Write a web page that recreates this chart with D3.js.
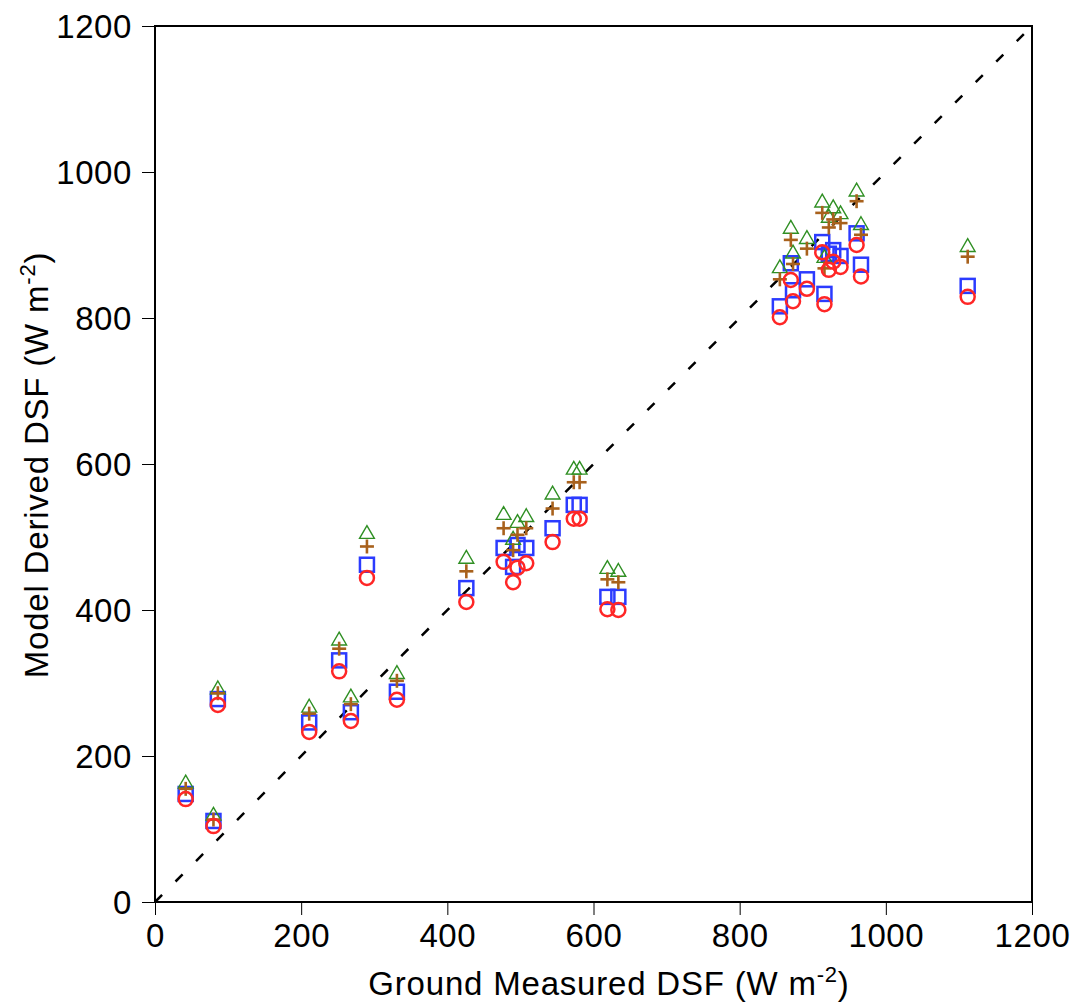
<!DOCTYPE html>
<html lang="en">
<head>
<meta charset="UTF-8">
<title>Model vs Ground DSF</title>
<script src="https://d3js.org/d3.v7.min.js"></script>
<style>
  body { margin: 0; background: #fff; }
  text { font-family: "Liberation Sans", Arial, Helvetica, sans-serif; fill: #000; }
</style>
</head>
<body>
<script>
// chart size
var width = 1086,
    height = 1008;
var margin = {left: 155, right: 54, top: 26, bottom: 106};

// ground measured DSF (x) and the four model estimates (y)
var groundDSF = [42, 80, 86, 211, 252, 268, 290, 331,
                 426, 477, 490, 496, 508, 544, 573, 581, 619, 634,
                 855, 870, 873, 892, 913, 916, 922, 928, 938, 960, 966, 1112];
var triangleDSF = [162, 118, 291, 266, 358, 280, 504, 312,
                   470, 530, 496, 519, 527, 558, 592, 592, 456, 452,
                   868, 922, 888, 908, 958, 882, 937, 950, 942, 973, 927, 897];
var plusDSF = [155, 113, 286, 258, 347, 271, 487, 303,
               453, 512, 482, 503, 512, 539, 575, 575, 442, 438,
               853, 907, 874, 895, 944, 868, 924, 935, 930, 960, 914, 884];
var squareDSF = [148, 111, 278, 246, 331, 260, 462, 288,
                 430, 485, 459, 489, 485, 512, 544, 544, 418, 418,
                 816, 875, 838, 853, 904, 833, 888, 893, 885, 916, 873, 844];
var circleDSF = [141, 104, 270, 233, 316, 248, 444, 277,
                 411, 466, 438, 458, 464, 493, 525, 525, 401, 400,
                 801, 852, 823, 840, 890, 819, 866, 877, 870, 900, 857, 829];
var ticks = [0, 200, 400, 600, 800, 1000, 1200];

var svg = d3.select("body").append("svg")
    .attr("width", width)
    .attr("height", height);

var x = d3.scaleLinear().domain([0, 1200]).range([margin.left, width - margin.right]);
var y = d3.scaleLinear().domain([0, 1200]).range([height - margin.bottom, margin.top]);

// axes with outward ticks
var xAxis = svg.append("g")
    .attr("transform", "translate(0," + y(0) + ")")
    .call(d3.axisBottom(x).tickValues(ticks).tickSize(13).tickPadding(9).tickFormat(d3.format("d")));
var yAxis = svg.append("g")
    .attr("transform", "translate(" + x(0) + ",0)")
    .call(d3.axisLeft(y).tickValues(ticks).tickSize(13).tickPadding(10).tickFormat(d3.format("d")));

[xAxis, yAxis].forEach(function(g) {
  g.select(".domain").remove();
  g.selectAll(".tick line").attr("stroke", "#000").attr("stroke-width", 1);
  g.selectAll(".tick text").style("font-size", "33px").style("letter-spacing", "0.6px").attr("fill", "#000");
});
yAxis.selectAll(".tick text").attr("dy", "0.36em");

// frame
svg.append("rect")
    .attr("x", x(0)).attr("y", y(1200))
    .attr("width", x(1200) - x(0)).attr("height", y(0) - y(1200))
    .attr("fill", "none").attr("stroke", "#000").attr("stroke-width", 2);

// 1:1 line
svg.append("line")
    .attr("x1", x(0)).attr("y1", y(0))
    .attr("x2", x(1200)).attr("y2", y(1200))
    .attr("stroke", "#000").attr("stroke-width", 2.5)
    .attr("stroke-dasharray", "10,19");

var pts = groundDSF.map(function(g, i) {
  return {x: g, tri: triangleDSF[i], plus: plusDSF[i], sq: squareDSF[i], circ: circleDSF[i]};
});

// squares
svg.append("g").selectAll("rect").data(pts).enter().append("rect")
    .attr("x", function(d) { return x(d.x) - 7; })
    .attr("y", function(d) { return y(d.sq) - 7; })
    .attr("width", 14).attr("height", 14)
    .attr("fill", "none").attr("stroke", "#2b3bff").attr("stroke-width", 2.5);

// triangles
var tri = d3.symbol().type(d3.symbolTriangle).size(95);
svg.append("g").selectAll("path").data(pts).enter().append("path")
    .attr("d", tri)
    .attr("transform", function(d) { return "translate(" + x(d.x) + "," + y(d.tri) + ")"; })
    .attr("fill", "none").attr("stroke", "#2f8f23").attr("stroke-width", 1.4);

// plus
var pl = svg.append("g").selectAll("g").data(pts).enter().append("g")
    .attr("transform", function(d) { return "translate(" + x(d.x) + "," + y(d.plus) + ")"; })
    .attr("stroke", "#a8611c").attr("stroke-width", 2.6);
pl.append("line").attr("x1", -7).attr("x2", 7).attr("y1", 0).attr("y2", 0);
pl.append("line").attr("x1", 0).attr("x2", 0).attr("y1", -7).attr("y2", 7);

// circles
svg.append("g").selectAll("circle").data(pts).enter().append("circle")
    .attr("cx", function(d) { return x(d.x); })
    .attr("cy", function(d) { return y(d.circ); })
    .attr("r", 7)
    .attr("fill", "none").attr("stroke", "#ff2626").attr("stroke-width", 2.5);

// axis titles
var xt = svg.append("text")
    .attr("x", 609).attr("y", 995)
    .attr("text-anchor", "middle")
    .style("font-size", "33px").style("letter-spacing", "0.8px");
xt.append("tspan").text("Ground Measured DSF (W m");
xt.append("tspan").attr("dy", -13).style("font-size", "22px").text("-2");
xt.append("tspan").attr("dy", 13).text(")");

var yt = svg.append("text")
    .attr("transform", "translate(48," + 465 + ") rotate(-90)")
    .attr("text-anchor", "middle")
    .style("font-size", "33px").style("letter-spacing", "0.8px");
yt.append("tspan").text("Model Derived DSF (W m");
yt.append("tspan").attr("dy", -13).style("font-size", "22px").text("-2");
yt.append("tspan").attr("dy", 13).text(")");
</script>
</body>
</html>
